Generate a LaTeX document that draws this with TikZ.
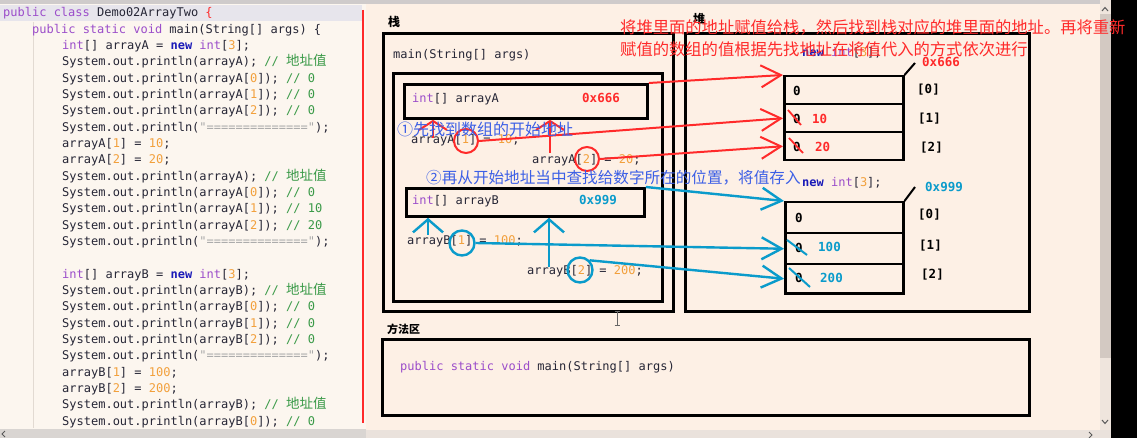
\documentclass[tikz,border=0pt]{standalone}
\usepackage{fontspec}
\setmonofont{DejaVu Sans Mono}
\newfontfamily\cjk{Noto Sans CJK SC}
\usetikzlibrary{arrows.meta}
\definecolor{leftbg}{HTML}{FCF6EF}
\definecolor{rightbg}{HTML}{FDF0E5}
\definecolor{topgray}{HTML}{CFCBCB}
\definecolor{hlrow}{HTML}{E7E5EC}
\definecolor{kwc}{HTML}{9B4DCA}
\definecolor{nwc}{HTML}{1A1AB8}
\definecolor{numc}{HTML}{F2A03C}
\definecolor{cmc}{HTML}{3A9A48}
\definecolor{strc}{HTML}{A8A8A8}
\definecolor{txt}{HTML}{262636}
\definecolor{redc}{HTML}{FF2A2A}
\definecolor{bluec}{HTML}{3C5FE6}
\definecolor{cyanc}{HTML}{0A9BCB}
\definecolor{guide}{HTML}{E2DAD2}
\definecolor{track}{HTML}{EFE5DD}
\definecolor{thumb}{HTML}{D3C9C2}
\definecolor{botgray}{HTML}{D9D5D2}
\definecolor{botgray2}{HTML}{EAE2DC}
\newcommand{\jkw}[1]{\textcolor{kwc}{#1}}
\newcommand{\jnew}[1]{\textcolor{nwc}{\bfseries #1}}
\newcommand{\jnum}[1]{\textcolor{numc}{#1}}
\newcommand{\jcm}[1]{\textcolor{cmc}{#1}}
\newcommand{\jstr}[1]{\textcolor{strc}{#1}}
\newcommand{\jzh}[1]{{\cjk\fontsize{13.5}{14}\selectfont #1}}
\tikzset{
  code/.style={font=\ttfamily\fontsize{12}{14}\selectfont, text=txt, anchor=base west, inner sep=0pt},
  valbold/.style={font=\ttfamily\bfseries\fontsize{12.5}{14}\selectfont, anchor=base west, inner sep=0pt},
  zhtitle/.style={font=\cjk\bfseries\fontsize{12}{14}\selectfont, text=black, anchor=base west, inner sep=0pt},
  zhnote/.style={font=\cjk\fontsize{16.3}{18}\selectfont, anchor=base west, inner sep=0pt},
  thickbox/.style={draw=black, line width=2.8pt, anchor=north west, inner sep=0pt},
  cellbox/.style={draw=black, line width=2.5pt, anchor=north west, inner sep=0pt},
  redarr/.style={draw=redc, line width=2pt, -{Straight Barb[length=20pt,width=22pt]}},
  bluearr/.style={draw=cyanc, line width=2.4pt, -{Straight Barb[length=20pt,width=22pt]}},
  redup/.style={draw=redc, line width=2pt, -{Straight Barb[length=9pt,width=28pt]}},
  blueup/.style={draw=cyanc, line width=2.4pt, -{Straight Barb[length=13pt,width=30pt]}},
  redring/.style={circle, draw=redc, line width=2pt, minimum size=24pt, inner sep=0pt},
  bluering/.style={circle, draw=cyanc, line width=2.4pt, minimum size=25pt, inner sep=0pt},
}
\begin{document}
\begin{tikzpicture}[x=1pt,y=-1pt]
\useasboundingbox (0,0) rectangle (1137,438);
% ---------- backgrounds ----------
\fill[leftbg] (0,0) rectangle (366,438);
\fill[rightbg] (366,0) rectangle (1100,438);
\fill[topgray] (0,0) rectangle (1100,4);
\fill[hlrow] (0,5) rectangle (362,21);
\fill[track] (1100,0) rectangle (1111,430);
\fill[thumb] (1100,14) rectangle (1111,358);
\fill[black] (1111,0) rectangle (1137,438);
\fill[botgray] (0,429) rectangle (366,438);
\fill[botgray2] (366,430) rectangle (1111,438);
\draw[gray!70!black, line width=1pt] (1102,11) -- (1105,7.5) -- (1108,11);
\draw[gray!70!black, line width=1pt] (1102,420) -- (1105,423.5) -- (1108,420);
\draw[gray!70!black, line width=1pt] (5,431) -- (2,434) -- (5,437);
\draw[gray!70!black, line width=1pt] (1089,432) -- (1092,435) -- (1089,438);
\draw[guide, line width=0.8pt] (33,22) -- (33,428);
\draw[redc, line width=1.3pt] (363,10) -- (363,423);
% ---------- code panel ----------
\node[code] (c1) at (3,17) {\jkw{public class} Demo02ArrayTwo \textcolor{redc}{\{}};
\node[code] (c2) at (32,33.3) {\jkw{public static void} main(String[] args) \{};
\node[code] (c3) at (62,49.6) {\jkw{int}[] arrayA = \jnew{new} \jkw{int}[\jnum{3}];};
\node[code] (c4) at (62,66) {System.out.println(arrayA); \jcm{// \jzh{地址值}}};
\node[code] (c5) at (62,82.3) {System.out.println(arrayA[\jnum{0}]); \jcm{// 0}};
\node[code] (c6) at (62,98.6) {System.out.println(arrayA[\jnum{1}]); \jcm{// 0}};
\node[code] (c7) at (62,114.9) {System.out.println(arrayA[\jnum{2}]); \jcm{// 0}};
\node[code] (c8) at (62,131.2) {System.out.println(\jstr{"=============="});};
\node[code] (c9) at (62,147.6) {arrayA[\jnum{1}] = \jnum{10};};
\node[code] (c10) at (62,163.9) {arrayA[\jnum{2}] = \jnum{20};};
\node[code] (c11) at (62,180.2) {System.out.println(arrayA); \jcm{// \jzh{地址值}}};
\node[code] (c12) at (62,196.5) {System.out.println(arrayA[\jnum{0}]); \jcm{// 0}};
\node[code] (c13) at (62,212.8) {System.out.println(arrayA[\jnum{1}]); \jcm{// 10}};
\node[code] (c14) at (62,229.2) {System.out.println(arrayA[\jnum{2}]); \jcm{// 20}};
\node[code] (c15) at (62,245.5) {System.out.println(\jstr{"=============="});};
\node[code] (c17) at (62,278.1) {\jkw{int}[] arrayB = \jnew{new} \jkw{int}[\jnum{3}];};
\node[code] (c18) at (62,294.4) {System.out.println(arrayB); \jcm{// \jzh{地址值}}};
\node[code] (c19) at (62,310.8) {System.out.println(arrayB[\jnum{0}]); \jcm{// 0}};
\node[code] (c20) at (62,327.1) {System.out.println(arrayB[\jnum{1}]); \jcm{// 0}};
\node[code] (c21) at (62,343.4) {System.out.println(arrayB[\jnum{2}]); \jcm{// 0}};
\node[code] (c22) at (62,359.7) {System.out.println(\jstr{"=============="});};
\node[code] (c23) at (62,376) {arrayB[\jnum{1}] = \jnum{100};};
\node[code] (c24) at (62,392.4) {arrayB[\jnum{2}] = \jnum{200};};
\node[code] (c25) at (62,408.7) {System.out.println(arrayB); \jcm{// \jzh{地址值}}};
\node[code] (c26) at (62,425) {System.out.println(arrayB[\jnum{0}]); \jcm{// 0}};
% ---------- stack ----------
\node[zhtitle] (stacktitle) at (388,27) {栈};
\node[thickbox, minimum width=290pt, minimum height=278pt] (stack) at (382,32) {};
\node[code] (mainsig) at (393,59) {main(String[] args)};
\node[thickbox, minimum width=269pt, minimum height=228pt] (frame) at (392,72) {};
\node[thickbox, minimum width=243pt, minimum height=34pt] (aA) at (403,83) {};
\node[code] (aAtxt) at (412,103) {\jkw{int}[] arrayA};
\node[valbold, text=redc] (aAaddr) at (582,103) {0x666};
\node[code] (setA1) at (411,144) {arrayA[\jnum{1}] = \jnum{10};};
\node[code] (setA2) at (532,164) {arrayA[\jnum{2}] = \jnum{20};};
\node[thickbox, minimum width=238pt, minimum height=28pt] (aB) at (405,187) {};
\node[code] (aBtxt) at (412,205) {\jkw{int}[] arrayB};
\node[valbold, text=cyanc] (aBaddr) at (579,205) {0x999};
\node[code] (setB1) at (407,245) {arrayB[\jnum{1}] = \jnum{100};};
\node[code] (setB2) at (527,274) {arrayB[\jnum{2}] = \jnum{200};};
% ---------- heap ----------
\node[zhtitle] (heaptitle) at (693,24) {堆};
\node[thickbox, minimum width=344pt, minimum height=278pt] (heap) at (684,32) {};
\node[code] (newA) at (802,57) {\jnew{new} \jkw{int}[\jnum{3}];};
\node[cellbox, minimum width=119pt, minimum height=28pt] (hA0) at (783,75) {};
\node[cellbox, minimum width=119pt, minimum height=28pt] (hA1) at (783,103) {};
\node[cellbox, minimum width=119pt, minimum height=28pt] (hA2) at (783,131) {};
\coordinate (tickA) at (915,63);
\draw[black, line width=2pt] (hA0.north east) -- (tickA);
\node[valbold, text=redc] (addrA) at (922,67) {0x666};
\node[valbold, text=black] (iA0) at (917,94) {[0]};
\node[valbold, text=black] (iA1) at (918,123) {[1]};
\node[valbold, text=black] (iA2) at (920,152) {[2]};
\node[valbold, text=black] (vA0) at (793,96) {0};
\node[valbold, text=black] (vA1) at (793,124) {0};
\node[valbold, text=black] (vA2) at (793,152) {0};
\node[valbold, text=redc] (nA1) at (812,124) {10};
\node[valbold, text=redc] (nA2) at (815,152) {20};
\draw[redc, line width=1.8pt] (788,110) -- (801,125);
\draw[redc, line width=1.8pt] (789,138) -- (803,153);
\node[code] (newB) at (802,187) {\jnew{new} \jkw{int}[\jnum{3}];};
\node[cellbox, minimum width=118pt, minimum height=31pt] (hB0) at (784,201) {};
\node[cellbox, minimum width=118pt, minimum height=31pt] (hB1) at (784,232) {};
\node[cellbox, minimum width=118pt, minimum height=29pt] (hB2) at (784,263) {};
\coordinate (tickB) at (915,187);
\draw[black, line width=2pt] (hB0.north east) -- (tickB);
\node[valbold, text=cyanc] (addrB) at (925,192) {0x999};
\node[valbold, text=black] (iB0) at (918,219) {[0]};
\node[valbold, text=black] (iB1) at (919,250) {[1]};
\node[valbold, text=black] (iB2) at (921,279) {[2]};
\node[valbold, text=black] (vB0) at (795,223) {0};
\node[valbold, text=black] (vB1) at (795,253) {0};
\node[valbold, text=black] (vB2) at (795,282) {0};
\node[valbold, text=cyanc] (nB1) at (818,252) {100};
\node[valbold, text=cyanc] (nB2) at (820,282) {200};
\draw[cyanc, line width=2pt] (787,240) -- (807,255);
\draw[cyanc, line width=2pt] (789,268) -- (810,287);
% ---------- method area ----------
\node[zhtitle, font=\cjk\bfseries\fontsize{11}{13}\selectfont] (mtitle) at (387,333) {方法区};
\node[thickbox, minimum width=647pt, minimum height=76pt] (method) at (381,338) {};
\node[code] (msig) at (400,370) {\jkw{public static void} main(String[] args)};
% mouse cursor
\draw[gray!80!black, line width=0.9pt] (617,311) -- (617,325) (614.5,311) -- (619.5,311) (614.5,325) -- (619.5,325);
% ---------- red marks ----------
\node[redring] (cA1) at (466,141) {};
\node[redring] (cA2) at (587,159) {};
\coordinate (uA1) at (433,138);
\coordinate (uA2) at (550,153);
\draw[redup] (uA1) -- (uA1 |- aA.south);
\draw[redup] (uA2) -- (uA2 |- aA.south);
\draw[redarr] (aA.north east) -- (hA0.north west);
\draw[redarr] (cA1.east) -- (hA1.west);
\draw[redarr] (cA2.east) -- (hA2.west);
% ---------- blue marks ----------
\node[bluering] (cB1) at (462,243) {};
\node[bluering] (cB2) at (580,270) {};
\coordinate (uB1) at (428,235);
\coordinate (uB2) at (549,267);
\draw[blueup] (uB1) -- (uB1 |- aB.south);
\draw[blueup] (uB2) -- (uB2 |- aB.south);
\draw[bluearr] (aB.north east) -- (hB0.north west);
\draw[bluearr] (cB1.east) -- (hB1.west);
\draw[bluearr] (cB2.north east) -- (hB2.west);
% ---------- annotations ----------
\node[zhnote, text=bluec, font=\cjk\fontsize{16}{18}\selectfont] (note1) at (397,136) {①先找到数组的开始地址};
\node[zhnote, text=bluec, font=\cjk\fontsize{15.6}{18}\selectfont] (note2) at (426,184) {②再从开始地址当中查找给数字所在的位置，将值存入};
\node[zhnote, text=redc] (note3) at (620,34) {将堆里面的地址赋值给栈，然后找到栈对应的堆里面的地址。再将重新};
\node[zhnote, text=redc] (note4) at (620,56) {赋值的数组的值根据先找地址在将值代入的方式依次进行};
\end{tikzpicture}
\end{document}
